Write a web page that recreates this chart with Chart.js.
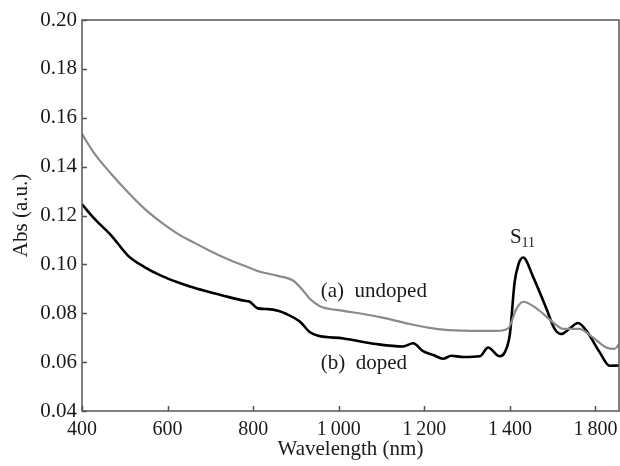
<!DOCTYPE html>
<html>
<head>
<meta charset="utf-8">
<script src="https://cdn.jsdelivr.net/npm/chart.js@4/dist/chart.umd.min.js"></script>
<style>
html,body{margin:0;padding:0;background:#fff;}
#wrap{width:620px;height:466px;}
</style>
</head>
<body>
<div id="wrap"><canvas id="c" width="620" height="466"></canvas></div>
<script>
// ---- data ----
const undopedWl = [400,430,469,508,547,586,625,664,702,741,780,816,858,894,917,933,956,1011,1057,1100,1135,1166,1213,1250,1290,1330,1369,1396,1415,1431,1462,1501,1525,1562,1594,1625,1644,1655];
const undopedAbs = [0.1533,0.1451,0.1369,0.1294,0.1226,0.1171,0.1124,0.1087,0.1053,0.1021,0.0994,0.0970,0.0953,0.0933,0.0892,0.0858,0.0829,0.0810,0.0797,0.0783,0.0769,0.0756,0.0740,0.0732,0.0729,0.0728,0.0728,0.0738,0.0817,0.0847,0.0820,0.0763,0.0736,0.0736,0.0701,0.0660,0.0654,0.0672];
const dopedWl = [400,430,469,508,547,586,625,664,702,741,780,792,803,811,835,858,878,909,933,952,1011,1088,1150,1174,1197,1221,1244,1263,1291,1330,1349,1376,1388,1400,1411,1420,1431,1454,1485,1505,1520,1540,1559,1579,1610,1633,1655];
const dopedAbs = [0.1246,0.1185,0.1117,0.1035,0.0988,0.0953,0.0926,0.0903,0.0885,0.0867,0.0851,0.0847,0.0830,0.0820,0.0817,0.0810,0.0797,0.0766,0.0722,0.0708,0.0697,0.0674,0.0664,0.0677,0.0645,0.0629,0.0614,0.0626,0.0621,0.0624,0.0660,0.0624,0.0640,0.0715,0.0926,0.1000,0.1028,0.0950,0.0820,0.0735,0.0715,0.0738,0.0760,0.0728,0.0640,0.0585,0.0586];
const xTickValues = [400,600,800,1000,1200,1400,1600];
const xTickLabels = ["400","600","800","1\u2009000","1\u2009200","1\u2009400","1\u2009800"];
const yTickValues = [0.04,0.06,0.08,0.10,0.12,0.14,0.16,0.18,0.20];

const FONT = "'Liberation Serif', 'Times New Roman', serif";
const TXT = '#1a1a1a';
const AXIS = '#555';

const toPts = (xs, ys) => xs.map((x, i) => ({x: x, y: ys[i]}));

const frame = {
  id: 'frame',
  afterDraw(chart) {
    const {ctx, chartArea: a, scales: {x, y}} = chart;
    ctx.save();
    ctx.strokeStyle = AXIS;
    ctx.lineWidth = 1.5;
    ctx.strokeRect(a.left, a.top, a.right - a.left, a.bottom - a.top);
    ctx.beginPath();
    xTickValues.forEach(v => {
      const px = Math.round(x.getPixelForValue(v)) + 0.5;
      ctx.moveTo(px, a.bottom); ctx.lineTo(px, a.bottom - 5);
    });
    yTickValues.forEach(v => {
      const py = Math.round(y.getPixelForValue(v)) + 0.5;
      ctx.moveTo(a.left, py); ctx.lineTo(a.left + 5, py);
    });
    ctx.stroke();
    // annotations
    ctx.fillStyle = TXT;
    ctx.textBaseline = 'middle';
    ctx.textAlign = 'left';
    ctx.font = '21px ' + FONT;
    ctx.fillText('(a)  undoped', x.getPixelForValue(958), y.getPixelForValue(0.0890));
    ctx.fillText('(b)  doped', x.getPixelForValue(958), y.getPixelForValue(0.0596));
    const sx = x.getPixelForValue(1400), sy = y.getPixelForValue(0.1108);
    ctx.font = '21px ' + FONT;
    ctx.fillText('S', sx, sy);
    const w = ctx.measureText('S').width;
    ctx.font = '14px ' + FONT;
    ctx.fillText('11', sx + w, sy + 5);
    ctx.restore();
  }
};

new Chart(document.getElementById('c'), {
  type: 'line',
  data: {
    datasets: [
      {label: '(a) undoped', data: toPts(undopedWl, undopedAbs), borderColor: '#8a8a8a', borderWidth: 2.2, pointRadius: 0, cubicInterpolationMode: 'monotone', fill: false},
      {label: '(b) doped', data: toPts(dopedWl, dopedAbs), borderColor: '#000', borderWidth: 2.6, pointRadius: 0, cubicInterpolationMode: 'monotone', fill: false}
    ]
  },
  options: {
    responsive: false,
    animation: false,
    events: [],
    layout: {padding: {top: 20, right: 1, left: 0, bottom: 0}},
    plugins: {legend: {display: false}, tooltip: {enabled: false}},
    scales: {
      x: {
        type: 'linear', min: 400, max: 1655,
        afterBuildTicks: s => { s.ticks = xTickValues.map(v => ({value: v})); },
        afterFit: s => { s.height = 55; s.paddingLeft = 0; s.paddingRight = 0; },
        grid: {display: false, drawTicks: false},
        border: {display: false},
        ticks: {
          padding: 7, color: TXT, font: {family: FONT, size: 20}, maxRotation: 0, autoSkip: false,
          callback: (v) => { const i = xTickValues.indexOf(v); return i >= 0 ? xTickLabels[i] : ''; }
        },
        title: {display: true, text: 'Wavelength (nm)', color: TXT, font: {family: FONT, size: 21}, padding: {top: 0, bottom: 4}}
      },
      y: {
        type: 'linear', min: 0.04, max: 0.20,
        afterBuildTicks: s => { s.ticks = yTickValues.map(v => ({value: v})); },
        afterFit: s => { s.width = 82; s.paddingTop = 0; s.paddingBottom = 0; },
        grid: {display: false, drawTicks: false},
        border: {display: false},
        ticks: {padding: 5, color: TXT, font: {family: FONT, size: 21}, callback: v => Number(v).toFixed(2)},
        title: {display: true, text: 'Abs (a.u.)', color: TXT, font: {family: FONT, size: 21}, padding: {top: 9, bottom: 0}}
      }
    }
  },
  plugins: [frame]
});
</script>
</body>
</html>
